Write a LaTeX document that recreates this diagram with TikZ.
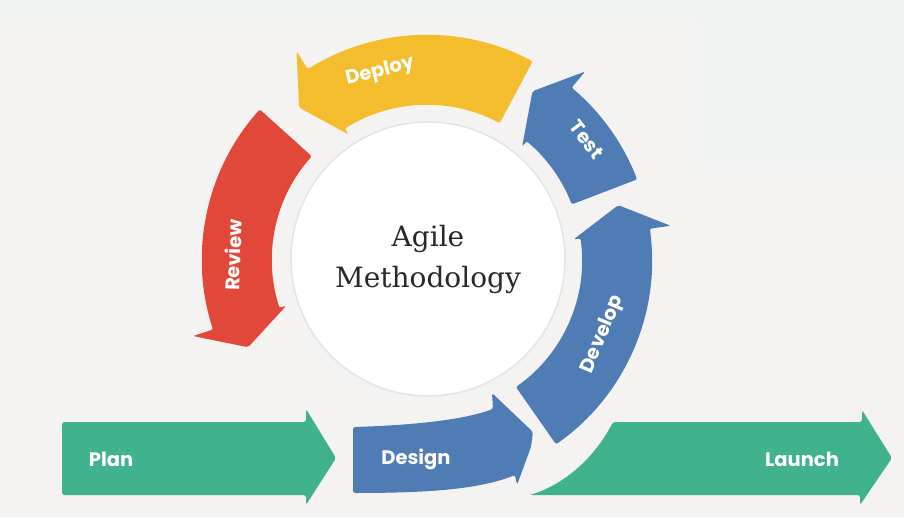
\documentclass[tikz,border=0pt]{standalone}
\usepackage{fontspec}
\setmainfont{DejaVu Serif}
\setsansfont{Poppins}
\usepackage{xcolor}
\usepackage{tikz}
\definecolor{pageBg}{RGB}{244,243,241}
\definecolor{pageCool}{RGB}{241,242,242}
\definecolor{deployYellow}{RGB}{243,189,46}
\definecolor{reviewRed}{RGB}{226,72,58}
\definecolor{stepBlue}{RGB}{80,124,181}
\definecolor{edgeGreen}{RGB}{64,178,142}
\definecolor{hubRim}{RGB}{228,228,228}
\definecolor{hubInk}{RGB}{40,40,40}
\newcommand{\RIn}{155}    % inner radius of the ring band
\newcommand{\ROut}{225}   % outer radius of the ring band
\newcommand{\BIn}{148}    % inner barb
\newcommand{\BOut}{246}   % outer barb
\newcommand{\RTip}{199}   % radius of the head tip
\newcommand{\HeadLen}{8}  % head length in degrees
\tikzset{
  ringArrow/.style={rounded corners=2pt},
  flatArrow/.style={rounded corners=2.5pt},
  lbl/.style={font=\sffamily\bfseries\fontsize{19.5}{21}\selectfont, text=white, inner sep=0pt},
  hub/.style={circle, draw=hubRim, line width=1.5pt, fill=white, minimum size=274pt,
    inner sep=0pt, align=center, text=hubInk, font=\fontsize{28}{41}\selectfont}
}
\newcommand{\RingArrow}[3]{% #1=colour, #2=tail angle, #3=barb angle (ccw)
  \fill[fill=#1, ringArrow] (#2:\RIn) arc[start angle=#2, end angle=#3, radius=\RIn]
    -- (#3:\BIn) -- ({#3+\HeadLen}:\RTip) -- (#3:\BOut) -- (#3:\ROut)
    arc[start angle=#3, end angle=#2, radius=\ROut] -- cycle;
}

\begin{document}
\begin{tikzpicture}[x=1pt, y=1pt]
  \useasboundingbox (0,0) rectangle (904,517);
  % Page
  \fill[pageBg] (0,0) rectangle (904,517);
  \fill[pageCool] (0,500) rectangle (904,517);
  \fill[pageCool] (700,354) rectangle (904,517);
  % Cycle arrows round the hub
  \begin{scope}[shift={(427,257)}]
    \foreach \col/\from/\to in {reviewRed/138/198, deployYellow/62/122, stepBlue/21/50, stepBlue/-55/8}{%
      \RingArrow{\col}{\from}{\to}
    }
    \node[lbl, rotate=88] (review) at (178.5:194) {Review};
    \node[lbl, rotate=14] (deploy) at (104:194) {Deploy};
    \node[lbl, rotate=-53] (test) at (37:200) {Test};
    \node[lbl, rotate=67] (develop) at (-23:191) {Develop};
  \end{scope}
  % Hub
  \node[hub] (hub) at (428,258) {Agile\\Methodology};
  % Plan (green, straight)
  \fill[edgeGreen, flatArrow] (62,22) -- (306,22) -- (306,12) -- (336,59) -- (306,108)
    -- (306,95) -- (62,95) -- cycle;
  % Design (blue, bends up into the ring)
  \fill[stepBlue, flatArrow] (353,24) -- (353,90) .. controls (420,92) and (465,98) .. (493,108)
    -- (492,124) -- (533,85) -- (531,70) -- (517,32) -- (515,42)
    .. controls (480,28) and (430,24) .. (353,24) -- cycle;
  % Launch (green, curved tail)
  \fill[edgeGreen, flatArrow] (530,22) -- (860,22) -- (860,12) -- (892,59) -- (862,107)
    -- (862,95) -- (613,95) .. controls (595,60) and (565,33) .. (530,22) -- cycle;
  \node[lbl] (plan) at (111,58) {Plan};
  \node[lbl] (design) at (416,58) {Design};
  \node[lbl] (launch) at (802,58) {Launch};
\end{tikzpicture}
\end{document}
